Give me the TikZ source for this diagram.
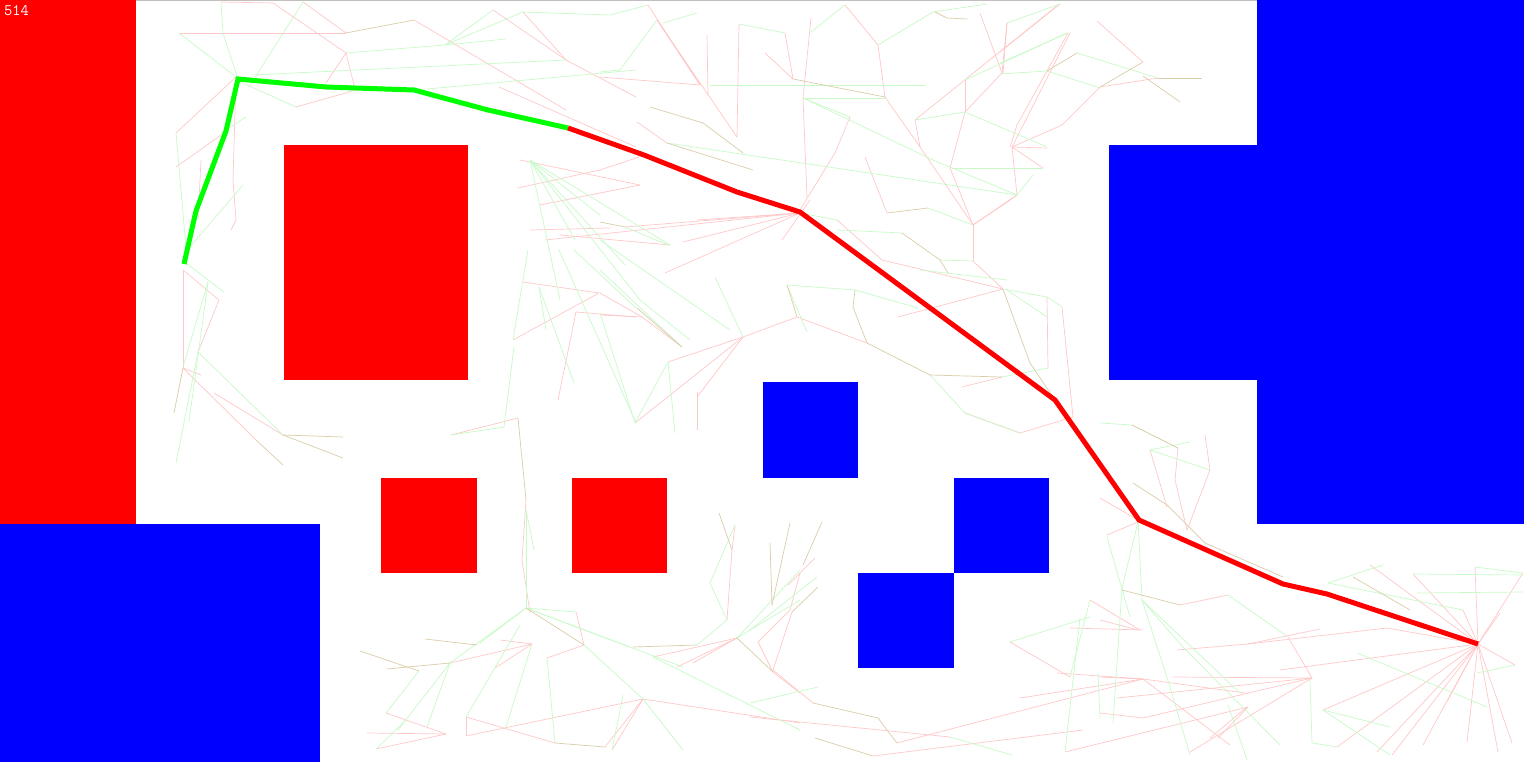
\documentclass[tikz,border=0pt]{standalone}
\definecolor{obsred}{RGB}{255,0,0}
\definecolor{obsblue}{RGB}{0,0,255}
\definecolor{pathgreen}{RGB}{0,255,0}
\definecolor{trred}{RGB}{255,200,200}
\definecolor{trgreen}{RGB}{200,250,200}
\definecolor{trbrown}{RGB}{218,205,168}
\begin{document}
\begin{tikzpicture}[x=1pt,y=-1pt,
  obsR/.style={fill=obsred,draw=none},
  obsB/.style={fill=obsblue,draw=none},
  treeR/.style={draw=trred,line width=0.7pt},
  treeG/.style={draw=trgreen,line width=0.7pt},
  treeB/.style={draw=trbrown,line width=0.7pt},
  solpath/.style={line width=5pt,line join=miter}]
\useasboundingbox (0,0) rectangle (1524,762);
\fill[white] (0,0) rectangle (1524,762);
\draw[gray!50,line width=1.5pt] (136,0.7) -- (1257,0.7);
% tree edges
\foreach \a/\b/\c/\d in {
221/2/273/3, 179/33/346/33, 273/3/346/53, 303/2/346/33, 346/53/354/85, 346/53/326/83,
296/107/356/90, 414/20/566/110, 176/133/236/77, 176/167/224/133, 201/160/198/220,
236/78/233/180, 233/180/236/220, 236/220/231/230, 183/270/183/368, 183/270/219/300,
219/300/198/352, 183/368/201/375, 183/368/256/440, 214/393/283/435, 523/282/599/293,
599/293/513/340, 576/312/636/317, 576/312/558/400, 518/418/451/435, 526/500/522/560,
522/560/530/613, 576/612/584/645, 532/644/450/663, 532/644/500/640, 532/644/495/668,
584/645/547/658, 386/713/446/734, 367/733/446/734, 376/749/446/734, 466/717/466/736,
466/717/555/743, 466/736/643/699, 605/747/643/699, 612/750/643/699, 643/699/800/723,
737/638/677/667, 737/638/693/663, 737/638/653/657, 727/620/732/550, 732/550/735/525,
773/672/758/642, 758/642/790/610, 790/610/800/573, 773/672/800/693, 815/558/788/585,
792/612/773/670, 773/670/813/703, 897/743/1143/679, 873/756/1083/730, 750/717/950/737,
1010/642/1070/677, 1090/600/1140/630, 1070/628/1143/630, 1020/698/1143/679, 1057/673/1143/679,
1478/644/1467/742, 1478/644/1498/752, 1478/644/1512/743, 1478/644/1463/610, 1478/644/1523/573,
1478/644/1515/665, 1478/644/1500/613, 1478/644/1423/745, 1478/644/1392/755, 1478/644/1377/752,
1478/644/1337/747, 1478/644/1323/710, 1478/644/1370/565, 1478/644/1413/574, 1478/644/1475/567,
1478/644/1387/628, 1478/644/1448/700, 1478/644/1280/670, 1180/605/1228/595, 1100/620/1138/630,
1177/650/1248/644, 1248/644/1320/629, 1248/644/1387/628, 1288/637/1312/678, 1100/677/1143/679,
1143/679/1245/693, 1173/677/1312/678, 1117/698/1312/678, 1143/718/1312/678, 1100/713/1143/718,
1247/707/1210/738, 1248/707/1218/738, 1065/752/1248/707, 1312/678/1190/752, 1143/679/1230/745,
648/5/700/85, 657/20/700/85, 657/20/737/137, 600/77/700/85, 707/35/708/95, 739/24/737/137,
785/33/793/79, 811/18/803/98, 803/98/807/197, 845/5/878/45, 878/45/885/97, 765/53/793/79,
637/122/667/143, 850/117/835/153, 835/153/800/210, 885/97/920/147, 920/147/973/225,
915/120/920/147, 965/80/965/112, 965/112/1002/73, 1002/73/980/13, 1002/73/1007/23,
1058/5/915/120, 950/168/973/225, 965/112/950/168, 1012/147/1070/33, 1012/147/1062/125,
1062/125/1100/87, 1012/147/1043/168, 1012/147/1017/195, 1017/195/973/225, 865/157/887/213,
1060/4/1000/52, 1007/23/1003/74, 1068/33/1017/125, 1017/125/1010/147, 1097/21/1143/62,
1100/87/1158/78, 1012/147/1047/148, 1017/195/1000/207,
683/242/800/213, 665/273/800/213, 625/227/800/213, 697/220/800/213, 782/240/810/200,
837/220/882/260, 882/260/1003/289, 973/225/973/261, 973/261/1003/289, 1010/200/973/225,
1003/289/898/317, 1047/297/1048/368, 1062/307/1073/417, 797/317/867/343, 743/337/797/317,
1020/433/1073/417, 962/387/1002/377, 743/337/668/362, 743/337/697/397, 743/337/635/423,
697/392/697/430, 600/293/642/317, 642/317/682/347, 600/315/642/317, 965/413/1020/433,
518/188/600/170, 600/170/645/155, 520/160/640/185, 530/230/610/228, 540/205/640/185,
560/235/670/245, 493/10/566/60, 523/12/566/60, 566/60/636/97, 499/87/636/147,
1205/435/1210/470, 1210/470/1187/530, 1178/448/1175/480, 1175/480/1187/530, 1150/450/1167/507,
1100/498/1138/520, 1107/535/1138/522, 545/240/800/213}
  \draw[treeR] (\a,\b) -- (\c,\d);
\foreach \a/\b/\c/\d in {
221/2/223/33, 223/33/238/79, 179/33/236/77, 303/2/249/87, 236/80/296/107, 176/133/179/167,
179/167/186/248, 243/185/189/248, 246/117/221/133, 186/263/224/292, 208/282/189/422,
198/352/176/463, 198/352/283/435, 208/282/183/367, 528/250/513/340, 539/287/546/330,
539/287/574/383, 559/250/636/423, 574/250/636/308, 514/347/504/427, 504/427/451/435,
526/510/534/550, 526/510/526/608, 526/608/576/612, 526/608/450/663, 526/608/480/643,
526/608/630/647, 526/608/683/667, 419/671/386/713, 450/663/427/727, 450/663/398/730,
376/749/406/720, 466/717/520/625, 505/730/532/644, 555/743/547/658, 584/645/643/699,
643/699/683/750, 623/695/612/750, 697/645/727/620, 737/638/800/570, 737/638/800/600,
710/583/735/525, 710/583/727/620, 817/577/750/630, 653/657/800/730, 750/703/818/687,
1010/642/1090/617, 1070/677/1090/600, 1080/618/1065/752, 1122/588/1113/723, 1138/522/1122/588,
1107/537/1130/617, 1098/673/1100/718, 950/737/1012/755,
1475/567/1523/573, 1383/565/1328/583, 1328/583/1463/610, 1417/593/1523/592, 1228/595/1288/637,
1142/600/1183/647, 1142/600/1170/687, 1142/600/1240/693, 1310/680/1312/743, 1312/743/1337/747,
1228/705/1247/760, 1413/574/1523/575, 1357/653/1487/707, 1477/673/1515/665, 1323/710/1390/727,
1323/710/1390/755, 1138/520/1142/600, 1150/450/1190/442, 1150/450/1210/470, 1100/423/1132/425,
1183/647/1280/745, 1170/687/1190/755,
610/15/648/5, 620/70/657/20, 600/72/620/70, 697/13/663/23, 739/24/785/33, 811/32/845/5,
878/45/933/12, 710/85/925/85, 803/98/885/98, 803/98/850/117, 803/98/933/160, 667/143/1017/195,
915/120/965/112, 965/80/1067/33, 933/12/987/4, 965/112/1047/147, 952/168/1043/168,
1017/195/1033/175, 1047/71/1100/88, 1007/23/1060/4, 1000/63/1068/33, 1000/74/1047/71,
1077/53/1158/78, 933/160/1017/195, 928/208/973/225,
445/45/493/10, 445/45/523/12, 523/12/609/15, 445/45/506/39, 416/90/636/70, 252/75/566/60,
346/53/445/45,
800/213/837/220, 838/230/902/233, 940/260/973/261, 920/270/1007/280, 1003/289/1047/297,
1047/297/1062/307, 1007/290/1047/317, 787/285/855/290, 855/290/918/308, 930/375/965/413,
965/413/1020/433, 1002/377/1048/368, 787/285/807/332, 600/270/682/347, 715/277/743/337,
668/362/675/433, 668/362/635/423, 600/313/635/423, 625/227/668/245,
530/160/575/240, 530/160/625/265, 530/160/670/245, 530/160/600/215, 530/160/560/300,
530/160/640/300, 640/300/690/340, 600/240/730/330}
  \draw[treeG] (\a,\b) -- (\c,\d);
\foreach \a/\b/\c/\d in {
346/33/414/20, 283/465/256/440, 283/435/343/437, 283/435/343/458, 183/368/174/413,
518/418/526/500, 526/608/584/645, 425/639/477/645, 360/651/419/671, 387/669/450/663,
555/743/605/747, 633/647/697/645, 737/638/773/672, 719/513/732/550, 772/605/770/543,
772/605/790/523, 822/522/803/565, 818/587/792/612, 813/703/878/718, 878/718/897/743,
815/738/873/756, 650/107/703/123, 703/123/743/153, 667/143/753/170, 793/79/885/97,
887/213/928/208, 935/12/947/18, 947/18/967/19, 1047/71/1077/53, 1143/62/1100/87,
1158/78/1202/78, 1143/76/1180/102, 600/222/625/227, 902/233/940/260, 940/260/948/273,
1003/289/1030/363, 1030/363/1055/400, 787/285/797/317, 855/290/853/307, 853/307/867/343,
867/343/930/375, 930/375/1002/377, 637/308/682/347, 1122/590/1180/605, 1353/577/1410/610,
1133/483/1167/505, 1167/505/1205/543, 1205/543/1283/577, 1132/425/1178/448}
  \draw[treeB] (\a,\b) -- (\c,\d);
% obstacles
\fill[obsR] (0,0) rectangle (136,524);
\fill[obsB] (0,524) rectangle (320,762);
\fill[obsR] (284,145) rectangle (468,380);
\fill[obsR] (381,478) rectangle (477,573);
\fill[obsR] (572,478) rectangle (667,573);
\fill[obsB] (763,382) rectangle (858,478);
\fill[obsB] (954,478) rectangle (1049,573);
\fill[obsB] (858,573) rectangle (954,668);
\fill[obsB] (1257,0) rectangle (1524,524);
\fill[obsB] (1109,145) rectangle (1257,380);
% solution path
\coordinate (s0) at (184,264);
\coordinate (s1) at (196,211);
\coordinate (s2) at (226,131);
\coordinate (s3) at (238,79);
\coordinate (s4) at (326,87);
\coordinate (s5) at (414,90);
\coordinate (s6) at (488,110);
\coordinate (s7) at (568,128);
\coordinate (s8) at (644,155);
\coordinate (s9) at (737,192);
\coordinate (s10) at (800,212);
\coordinate (s11) at (1055,400);
\coordinate (s12) at (1139,520);
\coordinate (s13) at (1283,584);
\coordinate (s14) at (1327,594);
\coordinate (s15) at (1478,644);
\draw[solpath,draw=pathgreen] (s0) -- (s1) -- (s2) -- (s3) -- (s4) -- (s5) -- (s6) -- (s7);
\draw[solpath,draw=obsred] (s7) -- (s8) -- (s9) -- (s10) -- (s11) -- (s12) -- (s13) -- (s14) -- (s15);
\node[anchor=north west,inner sep=0pt,text=white,font=\ttfamily\fontsize{16}{16}\selectfont] (count) at (4,5) {514};
\end{tikzpicture}
\end{document}
